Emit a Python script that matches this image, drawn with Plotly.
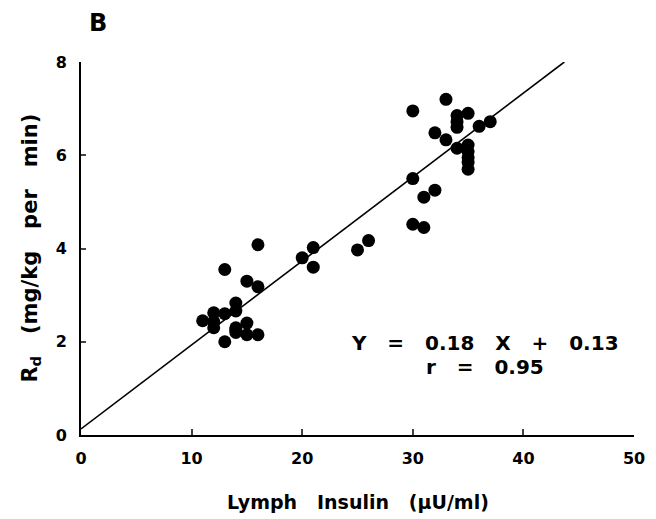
import plotly.graph_objects as go

# Data
insulin = [11, 12, 12, 12, 13, 13, 13, 14, 14, 14, 14, 14, 15, 15, 15, 16, 16, 16,
           20, 21, 21, 25, 26,
           30, 30, 30, 31, 31, 32, 32, 33, 33, 34, 34, 34, 34, 35, 35, 35, 35, 35, 35, 36, 37]
rd = [2.45, 2.62, 2.43, 2.3, 3.55, 2.6, 2.0, 2.83, 2.66, 2.25, 2.2, 2.3, 3.3, 2.4, 2.15, 4.08, 3.18, 2.15,
      3.8, 4.02, 3.6, 3.97, 4.17,
      6.95, 5.5, 4.52, 5.1, 4.45, 5.25, 6.48, 7.2, 6.33, 6.85, 6.72, 6.6, 6.15, 6.9, 6.22, 6.08, 5.95, 5.85, 5.7, 6.62, 6.72]

fit_x = [0, 43.7]
fit_y = [0.13, 8.0]

x_ticks = [0, 10, 20, 30, 40, 50]
y_ticks = [0, 2, 4, 6, 8]

FONT = "DejaVu Sans"
W = "bold"
NB = "\u00a0"
S3 = NB * 3

fig = go.Figure()
fig.add_trace(go.Scatter(x=fit_x, y=fit_y, mode="lines",
                         line=dict(color="black", width=1.6), hoverinfo="skip"))
fig.add_trace(go.Scatter(x=insulin, y=rd, mode="markers",
                         marker=dict(color="black", size=13, line=dict(width=0))))

fig.update_layout(
    width=656, height=519,
    margin=dict(l=73, r=30, t=54, b=92),
    paper_bgcolor="white", plot_bgcolor="white",
    showlegend=False,
    font=dict(family=FONT, color="black"),
)
fig.update_xaxes(range=[0, 50], tickvals=x_ticks, ticks="inside", ticklen=6, tickwidth=1.5,
                 showline=True, linecolor="black", linewidth=2, showgrid=False, zeroline=False,
                 tickfont=dict(size=16, family=FONT, weight=W), ticklabelstandoff=8)
fig.update_yaxes(range=[0, 8], tickvals=y_ticks, ticks="inside", ticklen=5, tickwidth=1.5,
                 showline=True, linecolor="black", linewidth=2, showgrid=False, zeroline=False,
                 tickfont=dict(size=16, family=FONT, weight=W), ticklabelstandoff=9)

fig.add_annotation(text=f"Lymph{S3}Insulin{S3}(µU/ml)", xref="paper", yref="paper",
                   x=0.50, y=-0.18, xanchor="center", yanchor="middle", showarrow=False,
                   font=dict(size=19, family=FONT, weight=W))
fig.add_annotation(text=f"R<sub>d</sub>{S3}(mg/kg{S3}per{S3}min)", xref="paper", yref="paper",
                   x=-0.092, y=0.50, xanchor="center", yanchor="middle", showarrow=False, textangle=-90,
                   font=dict(size=21, family=FONT, weight=W))
fig.add_annotation(text="B", xref="paper", yref="paper", x=0.031, y=1.105,
                   xanchor="center", yanchor="middle", showarrow=False,
                   font=dict(size=24, family=FONT, weight=W))
fig.add_annotation(text=f"Y{S3}={S3}0.18{S3}X{S3}+{S3}0.13", x=36.5, y=1.97,
                   xanchor="center", yanchor="middle",
                   showarrow=False, font=dict(size=20, family=FONT, weight=W))
fig.add_annotation(text=f"r{S3}={S3}0.95", x=36.5, y=1.46,
                   xanchor="center", yanchor="middle",
                   showarrow=False, font=dict(size=20, family=FONT, weight=W))

fig.write_html("out.html")
